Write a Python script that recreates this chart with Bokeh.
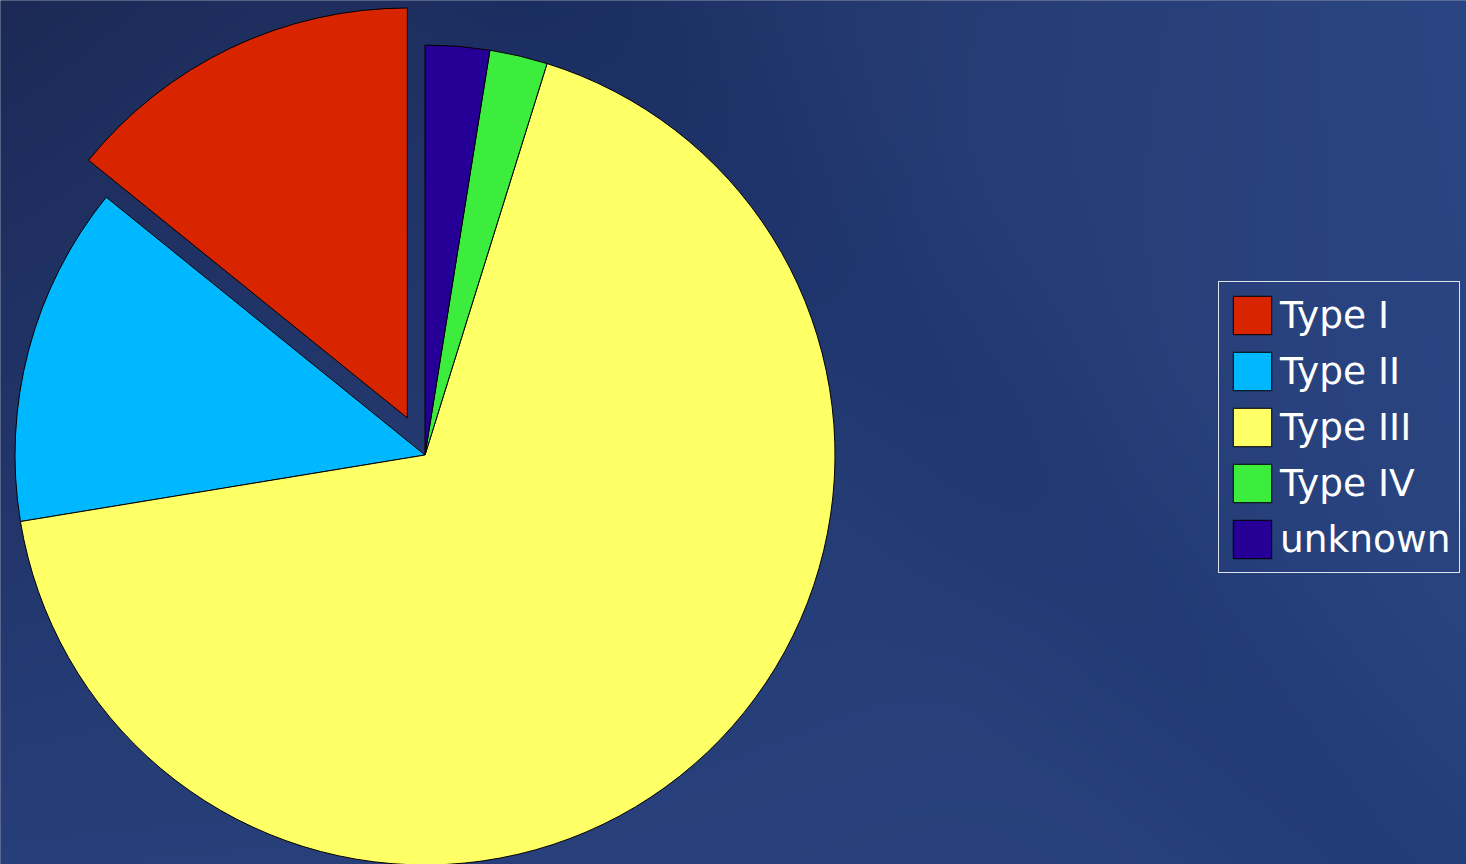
import numpy as np
from bokeh.plotting import figure
from bokeh.models import ColumnDataSource, Range1d, Legend, LegendItem
from bokeh.embed import file_html
from bokeh.resources import INLINE

# ---- data ----
labels = ["Type I", "Type II", "Type III", "Type IV", "unknown"]
counts = [56, 53, 267, 9, 10]
colors = ["#d92400", "#00b8ff", "#ffff66", "#3ded3d", "#260096"]
explode = [41, 0, 0, 0, 0]  # pixel offset of pulled-out slice (style)

W, H = 1466, 864
CX, CY, R = 424.5, 864 - 454.5, 410

p = figure(width=W, height=H, output_backend="svg", toolbar_location=None,
           x_range=Range1d(0, W), y_range=Range1d(0, H),
           x_axis_type=None, y_axis_type=None, min_border=0)
p.outline_line_color = None
p.grid.visible = False
p.background_fill_color = "#1e2d5e"
p.border_fill_color = "#1e2d5e"

# background gradient
yy, xx = np.mgrid[0:H + 8, 0:W + 8]
u = xx / (W + 8)
v = yy / (H + 8)  # 0 at top
tl = np.array([28, 41, 86]); tr = np.array([43, 70, 131])
bl = np.array([39, 63, 122]); br = np.array([41, 67, 126])
col = (tl[None, None, :] * ((1 - u) * (1 - v))[..., None] + tr[None, None, :] * (u * (1 - v))[..., None]
       + bl[None, None, :] * ((1 - u) * v)[..., None] + br[None, None, :] * (u * v)[..., None])
d = (u * 0.9 + (1 - v) * 0.5)
band = np.exp(-((d - 0.85) / 0.12) ** 2) * 6
col = col - band[..., None]
col = np.clip(col, 0, 255).astype(np.uint32)
img = (255 << 24) | (col[..., 2] << 16) | (col[..., 1] << 8) | col[..., 0]
img = img[::-1].astype(np.uint32)
p.image_rgba(image=[img], x=-4, y=-4, dw=W + 8, dh=H + 8)

# wedges
total = float(sum(counts))
fr = np.array(counts) / total
ends = np.pi / 2 + np.cumsum(fr) * 2 * np.pi
starts = ends - fr * 2 * np.pi
mids = (starts + ends) / 2
xs = CX + np.array(explode) * np.cos(mids)
ys = CY + np.array(explode) * np.sin(mids)

src = ColumnDataSource(dict(x=xs, y=ys, s=starts, e=ends, c=colors, label=labels))
r = p.wedge(x="x", y="y", radius=R, start_angle="s", end_angle="e", direction="anticlock",
            fill_color="c", line_color="black", line_width=1, source=src)

items = [LegendItem(label=labels[i], renderers=[r], index=i) for i in range(len(labels))]
legend = Legend(items=items, location=(1218, 864 - 573))
legend.label_text_font = "DejaVu Sans"
legend.label_text_font_size = "37.5px"
legend.label_text_color = "white"
legend.glyph_width = 48
legend.glyph_height = 48
legend.spacing = 8
legend.padding = 9
legend.margin = 0
legend.label_standoff = 4
legend.border_line_color = "white"
legend.border_line_alpha = 0.85
legend.border_line_width = 1
legend.background_fill_alpha = 0
p.add_layout(legend, "center")

open("out.html", "w").write(file_html(p, INLINE))
